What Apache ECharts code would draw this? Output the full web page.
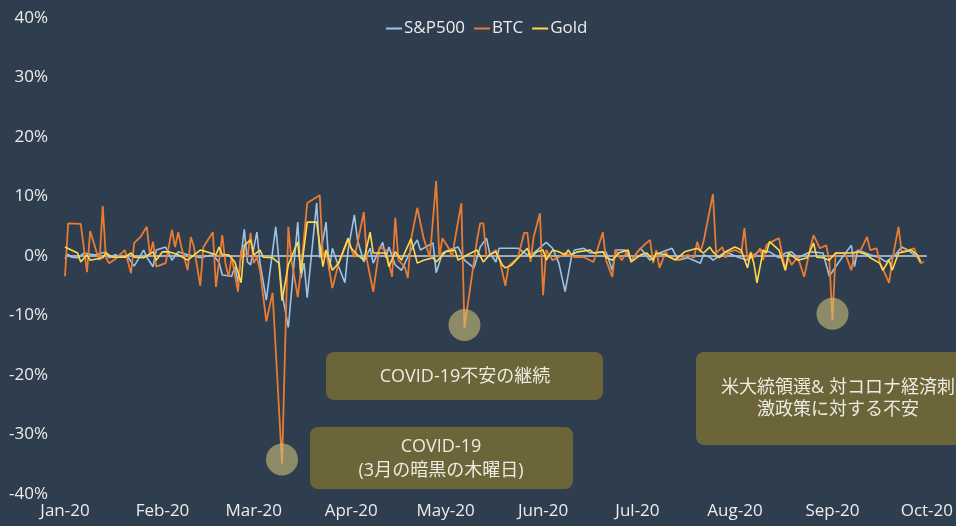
<!DOCTYPE html>
<html>
<head>
<meta charset="utf-8">
<script src="https://cdn.jsdelivr.net/npm/echarts@6/dist/echarts.min.js"></script>
<style>
  html, body { margin: 0; padding: 0; background: #2e3e4e; }
  #main { width: 956px; height: 526px; }
</style>
</head>
<body>
<div id="main"></div>
<script>
// 日次騰落率 (%), 日付は 2020年 MM-DD
var monthLabels = ['Jan-20', 'Feb-20', 'Mar-20', 'Apr-20', 'May-20', 'Jun-20', 'Jul-20', 'Aug-20', 'Sep-20', 'Oct-20'];
var yTicks = [-40, -30, -20, -10, 0, 10, 20, 30, 40];
var seriesNames = ['S&P500', 'BTC', 'Gold'];

var spData = [
    ['01-01', -0.5], ['01-02', 0.3], ['01-03', -0.2], ['01-05', -0.3], ['01-07', 0.5], ['01-10', 0.2],
    ['01-11', 0.2], ['01-14', 0.7], ['01-15', -0.3], ['01-17', 0.2], ['01-19', -0.2], ['01-21', -0.2],
    ['01-23', -1.7], ['01-26', 1.0], ['01-27', -0.2], ['01-29', -1.8], ['01-30', 1.0],
    ['02-02', 1.5], ['02-04', -0.7], ['02-06', 0.7], ['02-09', 0.2], ['02-11', 0.0], ['02-13', -0.3],
    ['02-17', 0.2], ['02-19', -1.1], ['02-20', -3.2], ['02-23', -3.4], ['02-24', -1.8], ['02-25', -4.4],
    ['02-27', 4.5], ['02-28', -1.0], ['02-29', -1.5],
    ['03-02', 4.0], ['03-03', -1.2], ['03-05', -7.4], ['03-08', 4.9], ['03-10', -6.2], ['03-12', -12.0],
    ['03-15', 5.7], ['03-16', -3.7], ['03-17', -1.2], ['03-18', -7.0], ['03-21', 8.9], ['03-22', -0.3],
    ['03-24', 5.7], ['03-25', -2.4], ['03-26', 1.3], ['03-28', -1.8], ['03-30', -4.5], ['03-31', 1.0],
    ['04-02', 6.9], ['04-03', 2.7], ['04-05', -1.0], ['04-07', 1.3], ['04-08', -1.2], ['04-11', 2.3],
    ['04-12', -0.3], ['04-13', 1.5], ['04-15', -1.5], ['04-17', -2.4], ['04-20', 1.0], ['04-22', 2.7],
    ['04-23', 1.0], ['04-27', 2.2], ['04-28', -2.8], ['04-30', 0.5],
    ['05-02', 1.0], ['05-05', 1.5], ['05-07', -0.7], ['05-10', -2.0], ['05-12', 1.5], ['05-14', 3.0],
    ['05-15', 0.5], ['05-17', -1.0], ['05-18', 1.3], ['05-20', 1.3], ['05-24', 1.3], ['05-27', 0.2],
    ['05-29', 0.5],
    ['06-02', 2.3], ['06-04', 1.3], ['06-06', -1.2], ['06-08', -6.0], ['06-10', -0.2], ['06-11', 1.0],
    ['06-14', 1.3], ['06-16', 0.5], ['06-21', 0.7], ['06-23', -2.4], ['06-24', 1.0], ['06-27', 1.0],
    ['06-29', -0.7],
    ['07-02', 1.3], ['07-05', -0.7], ['07-08', 0.5], ['07-12', 1.3], ['07-14', -0.7], ['07-17', -0.3],
    ['07-21', -1.2], ['07-22', 0.2], ['07-24', -0.2], ['07-25', -0.7], ['07-29', 0.7],
    ['08-02', -0.2], ['08-05', -0.7], ['08-09', 1.0], ['08-12', 0.7], ['08-15', -0.3], ['08-17', 0.5],
    ['08-19', 0.7], ['08-21', -0.3], ['08-25', 0.7], ['08-29', 0.5], ['08-31', -3.4],
    ['09-02', -1.8], ['09-04', -0.3], ['09-07', 1.8], ['09-08', -1.8], ['09-09', 1.0], ['09-13', 0.2],
    ['09-16', -0.3], ['09-18', -1.0], ['09-21', 0.2], ['09-23', 1.5], ['09-25', 1.0], ['09-27', 0.2],
    ['09-29', -0.7]
];

var btcData = [
    ['01-01', -3.4], ['01-02', 5.5], ['01-06', 5.4], ['01-08', -2.7], ['01-09', 4.2], ['01-11', 0.7],
    ['01-12', -0.7], ['01-13', 8.4], ['01-14', -0.3], ['01-15', -1.2], ['01-17', -0.5], ['01-20', 1.0],
    ['01-22', -2.9], ['01-23', 2.2], ['01-25', 3.2], ['01-27', 4.9], ['01-28', 0.2], ['01-29', 2.4],
    ['01-30', -1.8],
    ['02-02', -1.2], ['02-04', 4.4], ['02-05', 1.5], ['02-06', 4.0], ['02-07', 1.5], ['02-09', -2.4],
    ['02-10', 3.2], ['02-11', 1.5], ['02-13', -5.0], ['02-14', 1.5], ['02-17', 4.0], ['02-18', -5.2],
    ['02-20', 3.5], ['02-21', -1.2], ['02-22', -3.5], ['02-23', -0.2], ['02-25', -6.0], ['02-26', 1.0],
    ['02-28', -0.3], ['02-29', 3.9],
    ['03-01', -1.2], ['03-02', -0.2], ['03-03', -2.4], ['03-05', -11.0], ['03-07', -6.2], ['03-10', -35.0],
    ['03-12', 4.9], ['03-13', -0.7], ['03-15', -6.9], ['03-16', -2.4], ['03-18', 8.9], ['03-22', 10.2],
    ['03-23', -0.2], ['03-24', 1.0], ['03-26', -5.4], ['03-28', -1.2], ['03-31', 2.7],
    ['04-02', -0.2], ['04-03', 2.2], ['04-05', 7.4], ['04-06', -0.7], ['04-08', -6.0], ['04-10', 1.5],
    ['04-12', 1.0], ['04-14', -3.5], ['04-15', 6.4], ['04-16', -0.7], ['04-18', -1.8], ['04-19', -3.7],
    ['04-20', 2.7], ['04-22', 8.1], ['04-24', 3.0], ['04-26', -0.2], ['04-28', 12.6], ['04-29', -0.2],
    ['04-30', 3.0],
    ['05-02', 1.3], ['05-03', -0.2], ['05-06', 8.9], ['05-07', -12.1], ['05-11', 2.7], ['05-12', 5.5],
    ['05-13', 5.5], ['05-14', -0.2], ['05-17', 1.0], ['05-18', -0.2], ['05-20', -5.0], ['05-21', -1.8],
    ['05-22', -1.2], ['05-24', -0.3], ['05-26', 3.9], ['05-27', 3.9], ['05-28', -1.0], ['05-29', 3.2],
    ['05-31', 7.2],
    ['06-01', -6.6], ['06-02', 1.0], ['06-04', -0.7], ['06-06', -0.2], ['06-08', 0.5], ['06-11', -0.2],
    ['06-14', -0.2], ['06-17', -1.0], ['06-20', 4.0], ['06-21', -0.7], ['06-23', -3.5], ['06-24', 1.0],
    ['06-26', -0.7], ['06-28', 1.0], ['06-29', -1.0],
    ['07-01', 0.7], ['07-03', 1.8], ['07-05', 2.7], ['07-06', -1.2], ['07-07', 1.0], ['07-08', -2.0],
    ['07-10', 0.7], ['07-11', -0.2], ['07-14', -0.7], ['07-17', 0.2], ['07-19', -0.3], ['07-20', 2.4],
    ['07-21', 0.7], ['07-22', 2.4], ['07-25', 10.4], ['07-26', 0.5], ['07-28', 1.5], ['07-29', -0.3],
    ['07-30', 0.7],
    ['08-01', 1.0], ['08-03', 0.5], ['08-04', 4.7], ['08-05', -0.7], ['08-06', 0.7], ['08-07', -0.3],
    ['08-09', 1.3], ['08-10', -0.7], ['08-11', 1.8], ['08-12', 2.2], ['08-15', 3.0], ['08-17', -2.4],
    ['08-18', -0.3], ['08-19', -1.5], ['08-21', -0.2], ['08-23', -3.5], ['08-25', 1.5], ['08-26', 3.5],
    ['08-28', 1.3], ['08-30', 1.8], ['08-31', -0.7],
    ['09-01', -10.8], ['09-02', 0.5], ['09-05', 0.5], ['09-07', -2.4], ['09-08', 0.5], ['09-10', 1.0],
    ['09-12', 3.2], ['09-13', 1.0], ['09-15', 1.3], ['09-16', -1.0], ['09-19', -4.5], ['09-20', -0.7],
    ['09-22', 4.9], ['09-23', 0.7], ['09-25', 1.0], ['09-27', 1.3], ['09-28', -0.2], ['09-29', -1.2],
    ['09-30', -1.0]
];

var goldData = [
    ['01-01', 1.5], ['01-03', 1.0], ['01-05', 0.5], ['01-06', -1.0], ['01-08', 0.2], ['01-09', -0.7],
    ['01-13', -0.3], ['01-14', 0.5], ['01-16', -0.2], ['01-20', -0.2], ['01-22', 0.5], ['01-23', -0.2],
    ['01-26', -0.3], ['01-29', 0.7], ['01-30', -0.7],
    ['02-01', 0.7], ['02-03', 0.7], ['02-06', 0.2], ['02-09', -0.7], ['02-13', 1.0], ['02-15', 0.7],
    ['02-18', 0.2], ['02-19', 1.5], ['02-20', 0.2], ['02-22', 0.2], ['02-24', -1.0], ['02-26', -4.5],
    ['02-27', 1.8], ['02-29', 2.7],
    ['03-01', 0.2], ['03-03', 1.0], ['03-04', -0.2], ['03-07', -0.3], ['03-09', -1.2], ['03-10', -7.5],
    ['03-12', -1.5], ['03-15', 2.4], ['03-16', -2.9], ['03-18', 5.7], ['03-21', 5.7], ['03-23', -1.8],
    ['03-24', 1.0], ['03-26', -2.4], ['03-28', -1.2], ['03-31', 3.0],
    ['04-01', 1.3], ['04-03', 0.2], ['04-05', -0.7], ['04-07', 4.0], ['04-08', 0.5], ['04-12', 0.5],
    ['04-13', -1.8], ['04-15', 0.7], ['04-17', -0.7], ['04-20', 2.9], ['04-22', -1.2], ['04-24', -0.7],
    ['04-27', -0.3], ['04-28', -1.0],
    ['05-01', 0.7], ['05-04', 1.0], ['05-05', -0.7], ['05-08', 0.2], ['05-11', 1.0], ['05-13', -1.0],
    ['05-15', 0.2], ['05-17', 0.7], ['05-19', -1.5], ['05-20', -2.0], ['05-22', -1.5], ['05-25', 0.2],
    ['05-27', 1.3], ['05-28', -0.3], ['05-30', 0.7],
    ['06-01', 1.0], ['06-02', -0.7], ['06-04', 1.0], ['06-06', 0.7], ['06-08', 0.2], ['06-09', 1.0],
    ['06-10', 0.2], ['06-12', 0.7], ['06-16', 1.0], ['06-17', 0.5], ['06-20', 0.7], ['06-21', -0.2],
    ['06-23', -0.7], ['06-25', 0.5], ['06-28', 1.0], ['06-29', -1.0],
    ['07-02', 0.2], ['07-04', 0.5], ['07-06', -0.7], ['07-07', 0.5], ['07-10', 0.2], ['07-13', -0.7],
    ['07-16', 0.7], ['07-20', 1.3], ['07-22', 0.5], ['07-24', 1.5], ['07-25', 0.7], ['07-27', -0.3],
    ['07-29', 0.7],
    ['08-01', 1.5], ['08-03', 1.0], ['08-05', -2.0], ['08-06', 0.5], ['08-07', -1.2], ['08-08', -4.5],
    ['08-10', 1.0], ['08-11', 0.5], ['08-12', 2.4], ['08-15', 1.0], ['08-17', -2.4], ['08-18', 0.5],
    ['08-21', -0.7], ['08-24', -0.3], ['08-26', 2.2], ['08-27', -0.2], ['08-29', -0.3], ['08-31', -0.7],
    ['09-02', 0.5], ['09-07', 0.5], ['09-09', 0.7], ['09-12', 0.2], ['09-13', -0.3], ['09-16', -1.2],
    ['09-17', -2.4], ['09-19', -0.7], ['09-20', -2.4], ['09-22', 0.5], ['09-24', 0.7], ['09-26', 1.0],
    ['09-28', 0.2], ['09-29', -1.0]
];

// 注目した急落日 [日付, 位置(%)]
var highlights = [['03-10', -34.2], ['05-07', -11.6], ['09-01', -9.7]];

var bgColor = '#2e3e4e';
var textColor = '#ececec';
var fontFamily = "'Open Sans', 'Noto Sans CJK JP', sans-serif";

function toSeries(list) {
    return list.map(function (p) {
        return ['2020-' + p[0], p[1]];
    });
}

var chart = document.getElementById('main');
var echart = echarts.init(chart, null, {renderer: 'canvas'});

//注釈ボックス
function annotationBox(x, y, w, h, text, tx, ty, lh) {
    return {
        type: 'group',
        children: [
            {
                type: 'rect',
                shape: {x: x, y: y, width: w, height: h, r: 8},
                style: {fill: '#6b6539'},
                z: 10
            },
            {
                type: 'text',
                x: tx,
                y: ty,
                style: {
                    text: text,
                    fill: '#ecebe2',
                    font: '18px ' + fontFamily,
                    textAlign: 'center',
                    textVerticalAlign: 'middle',
                    lineHeight: lh
                },
                z: 11
            }
        ]
    };
}

var option = {
    backgroundColor: bgColor,
    animation: false,
    textStyle: {fontFamily: fontFamily},
    legend: {
        data: seriesNames,
        left: 381,
        top: 15,
        icon: 'rect',
        itemWidth: 16,
        itemHeight: 2,
        itemGap: 9,
        textStyle: {color: textColor, fontSize: 17, fontFamily: fontFamily, padding: [0, 0, 0, -3]}
    },
    grid: {
        left: 65,
        right: 28,
        top: 18,
        bottom: 32
    },
    xAxis: {
        type: 'time',
        min: '2020-01-01',
        max: '2020-10-01',
        splitNumber: 9,
        axisLine: {show: false},
        axisTick: {show: false},
        splitLine: {show: false},
        axisLabel: {
            color: textColor,
            fontSize: 17,
            fontFamily: fontFamily,
            margin: 9,
            showMinLabel: true,
            showMaxLabel: true,
            hideOverlap: false,
            formatter: function (val) {
                return monthLabels[new Date(val).getMonth()];
            }
        }
    },
    yAxis: {
        type: 'value',
        min: yTicks[0],
        max: yTicks[yTicks.length - 1],
        interval: 10,
        axisLine: {show: false},
        axisTick: {show: false},
        splitLine: {show: false},
        axisLabel: {
            color: textColor,
            fontSize: 17,
            fontFamily: fontFamily,
            margin: 17,
            formatter: '{value}%'
        }
    },
    series: [
        {
            name: seriesNames[0],
            type: 'line',
            data: toSeries(spData),
            showSymbol: false,
            lineStyle: {color: '#9dc3e6', width: 1.6},
            itemStyle: {color: '#9dc3e6'},
            markLine: {
                silent: true,
                symbol: 'none',
                label: {show: false},
                lineStyle: {color: '#a3abb3', width: 2, type: 'solid'},
                data: [{yAxis: 0}],
                z: 1
            }
        },
        {
            name: seriesNames[1],
            type: 'line',
            data: toSeries(btcData),
            showSymbol: false,
            lineStyle: {color: '#ea7b33', width: 1.8},
            itemStyle: {color: '#ea7b33'},
            markPoint: {
                symbol: 'circle',
                symbolSize: 32,
                silent: true,
                label: {show: false},
                itemStyle: {color: 'rgba(205,190,120,0.6)'},
                data: highlights.map(function (h) {
                    return {coord: ['2020-' + h[0], h[1]]};
                })
            }
        },
        {
            name: seriesNames[2],
            type: 'line',
            data: toSeries(goldData),
            showSymbol: false,
            lineStyle: {color: '#ffd94a', width: 1.6},
            itemStyle: {color: '#ffd94a'}
        }
    ],
    graphic: [
        annotationBox(326, 352, 277, 48, 'COVID-19不安の継続', 465, 377, 24),
        annotationBox(310, 427, 263, 62, 'COVID-19\n(3月の暗黒の木曜日)', 441, 459, 24),
        annotationBox(696, 352, 290, 93, '米大統領選& 対コロナ経済刺\n激政策に対する不安', 838, 399, 22)
    ]
};

echart.setOption(option);
</script>
</body>
</html>
